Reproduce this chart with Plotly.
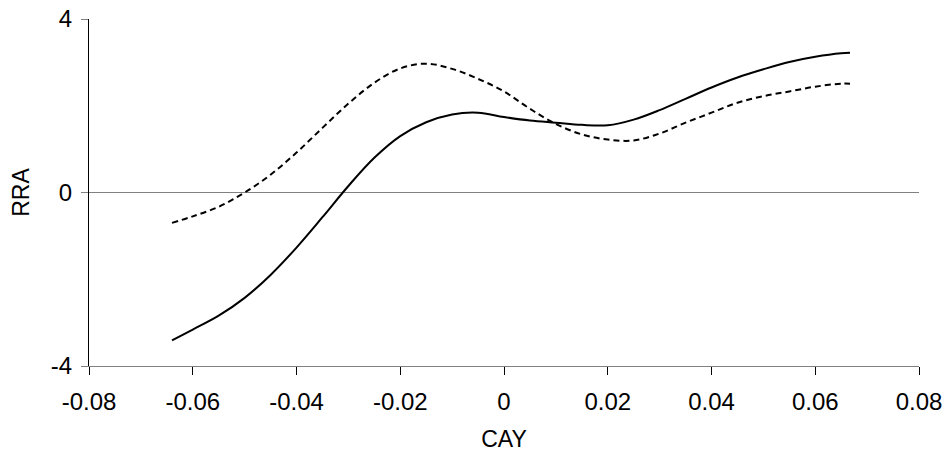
import plotly.graph_objects as go

# CAY values (x) and RRA values (y)
cay = [-0.064, -0.06, -0.055, -0.05, -0.045, -0.04, -0.035, -0.03, -0.025, -0.02,
       -0.015, -0.01, -0.005, 0.0, 0.005, 0.01, 0.015, 0.02, 0.025, 0.03,
       0.035, 0.04, 0.045, 0.05, 0.055, 0.06, 0.065, 0.0667]

rra_solid = [-3.41, -3.16, -2.84, -2.43, -1.90, -1.27, -0.57, 0.15, 0.80, 1.30,
             1.62, 1.80, 1.84, 1.74, 1.66, 1.61, 1.56, 1.55, 1.68, 1.90,
             2.16, 2.42, 2.65, 2.84, 3.01, 3.13, 3.21, 3.22]

rra_dashed = [-0.70, -0.55, -0.33, 0.00, 0.41, 0.92, 1.49, 2.05, 2.53, 2.86,
              2.97, 2.85, 2.62, 2.33, 1.93, 1.58, 1.34, 1.22, 1.20, 1.36,
              1.61, 1.84, 2.07, 2.22, 2.33, 2.44, 2.51, 2.51]

x_ticks = [-0.08, -0.06, -0.04, -0.02, 0, 0.02, 0.04, 0.06, 0.08]
x_ticklabels = ["-0.08", "-0.06", "-0.04", "-0.02", "0", "0.02", "0.04", "0.06", "0.08"]
y_ticks = [-4, 0, 4]
y_ticklabels = ["-4", "0", "4"]

FONT = "Liberation Sans, Arial, sans-serif"

fig = go.Figure()
fig.add_trace(go.Scatter(x=cay, y=rra_solid, mode="lines",
                         line=dict(color="black", width=2, shape="spline", smoothing=1.0),
                         showlegend=False))
fig.add_trace(go.Scatter(x=cay, y=rra_dashed, mode="lines",
                         line=dict(color="black", width=2, dash="6px,4px", shape="spline", smoothing=1.0),
                         showlegend=False))

fig.update_layout(
    width=948, height=462,
    margin=dict(l=89, r=29, t=19, b=96, autoexpand=False),
    paper_bgcolor="white", plot_bgcolor="white",
    font=dict(family=FONT, size=24, color="black"),
    xaxis=dict(
        range=[-0.08, 0.08], tickvals=x_ticks, ticktext=x_ticklabels,
        showgrid=False, zeroline=False, showline=True, linecolor="#808080", linewidth=1,
        ticks="outside", ticklen=8, tickcolor="black", tickwidth=1,
        ticklabelstandoff=6, automargin=False,
        title=dict(text="CAY", font=dict(size=23), standoff=17),
    ),
    yaxis=dict(
        range=[-4, 4], tickvals=y_ticks, ticktext=y_ticklabels,
        showgrid=True, gridcolor="#808080", gridwidth=1, zeroline=False,
        showline=True, linecolor="black", linewidth=1,
        ticks="outside", ticklen=7, tickcolor="#808080", tickwidth=1,
        ticklabelstandoff=4, automargin=False,
        title=dict(text="RRA", font=dict(size=23), standoff=14),
    ),
)

fig.write_html("out.html")
